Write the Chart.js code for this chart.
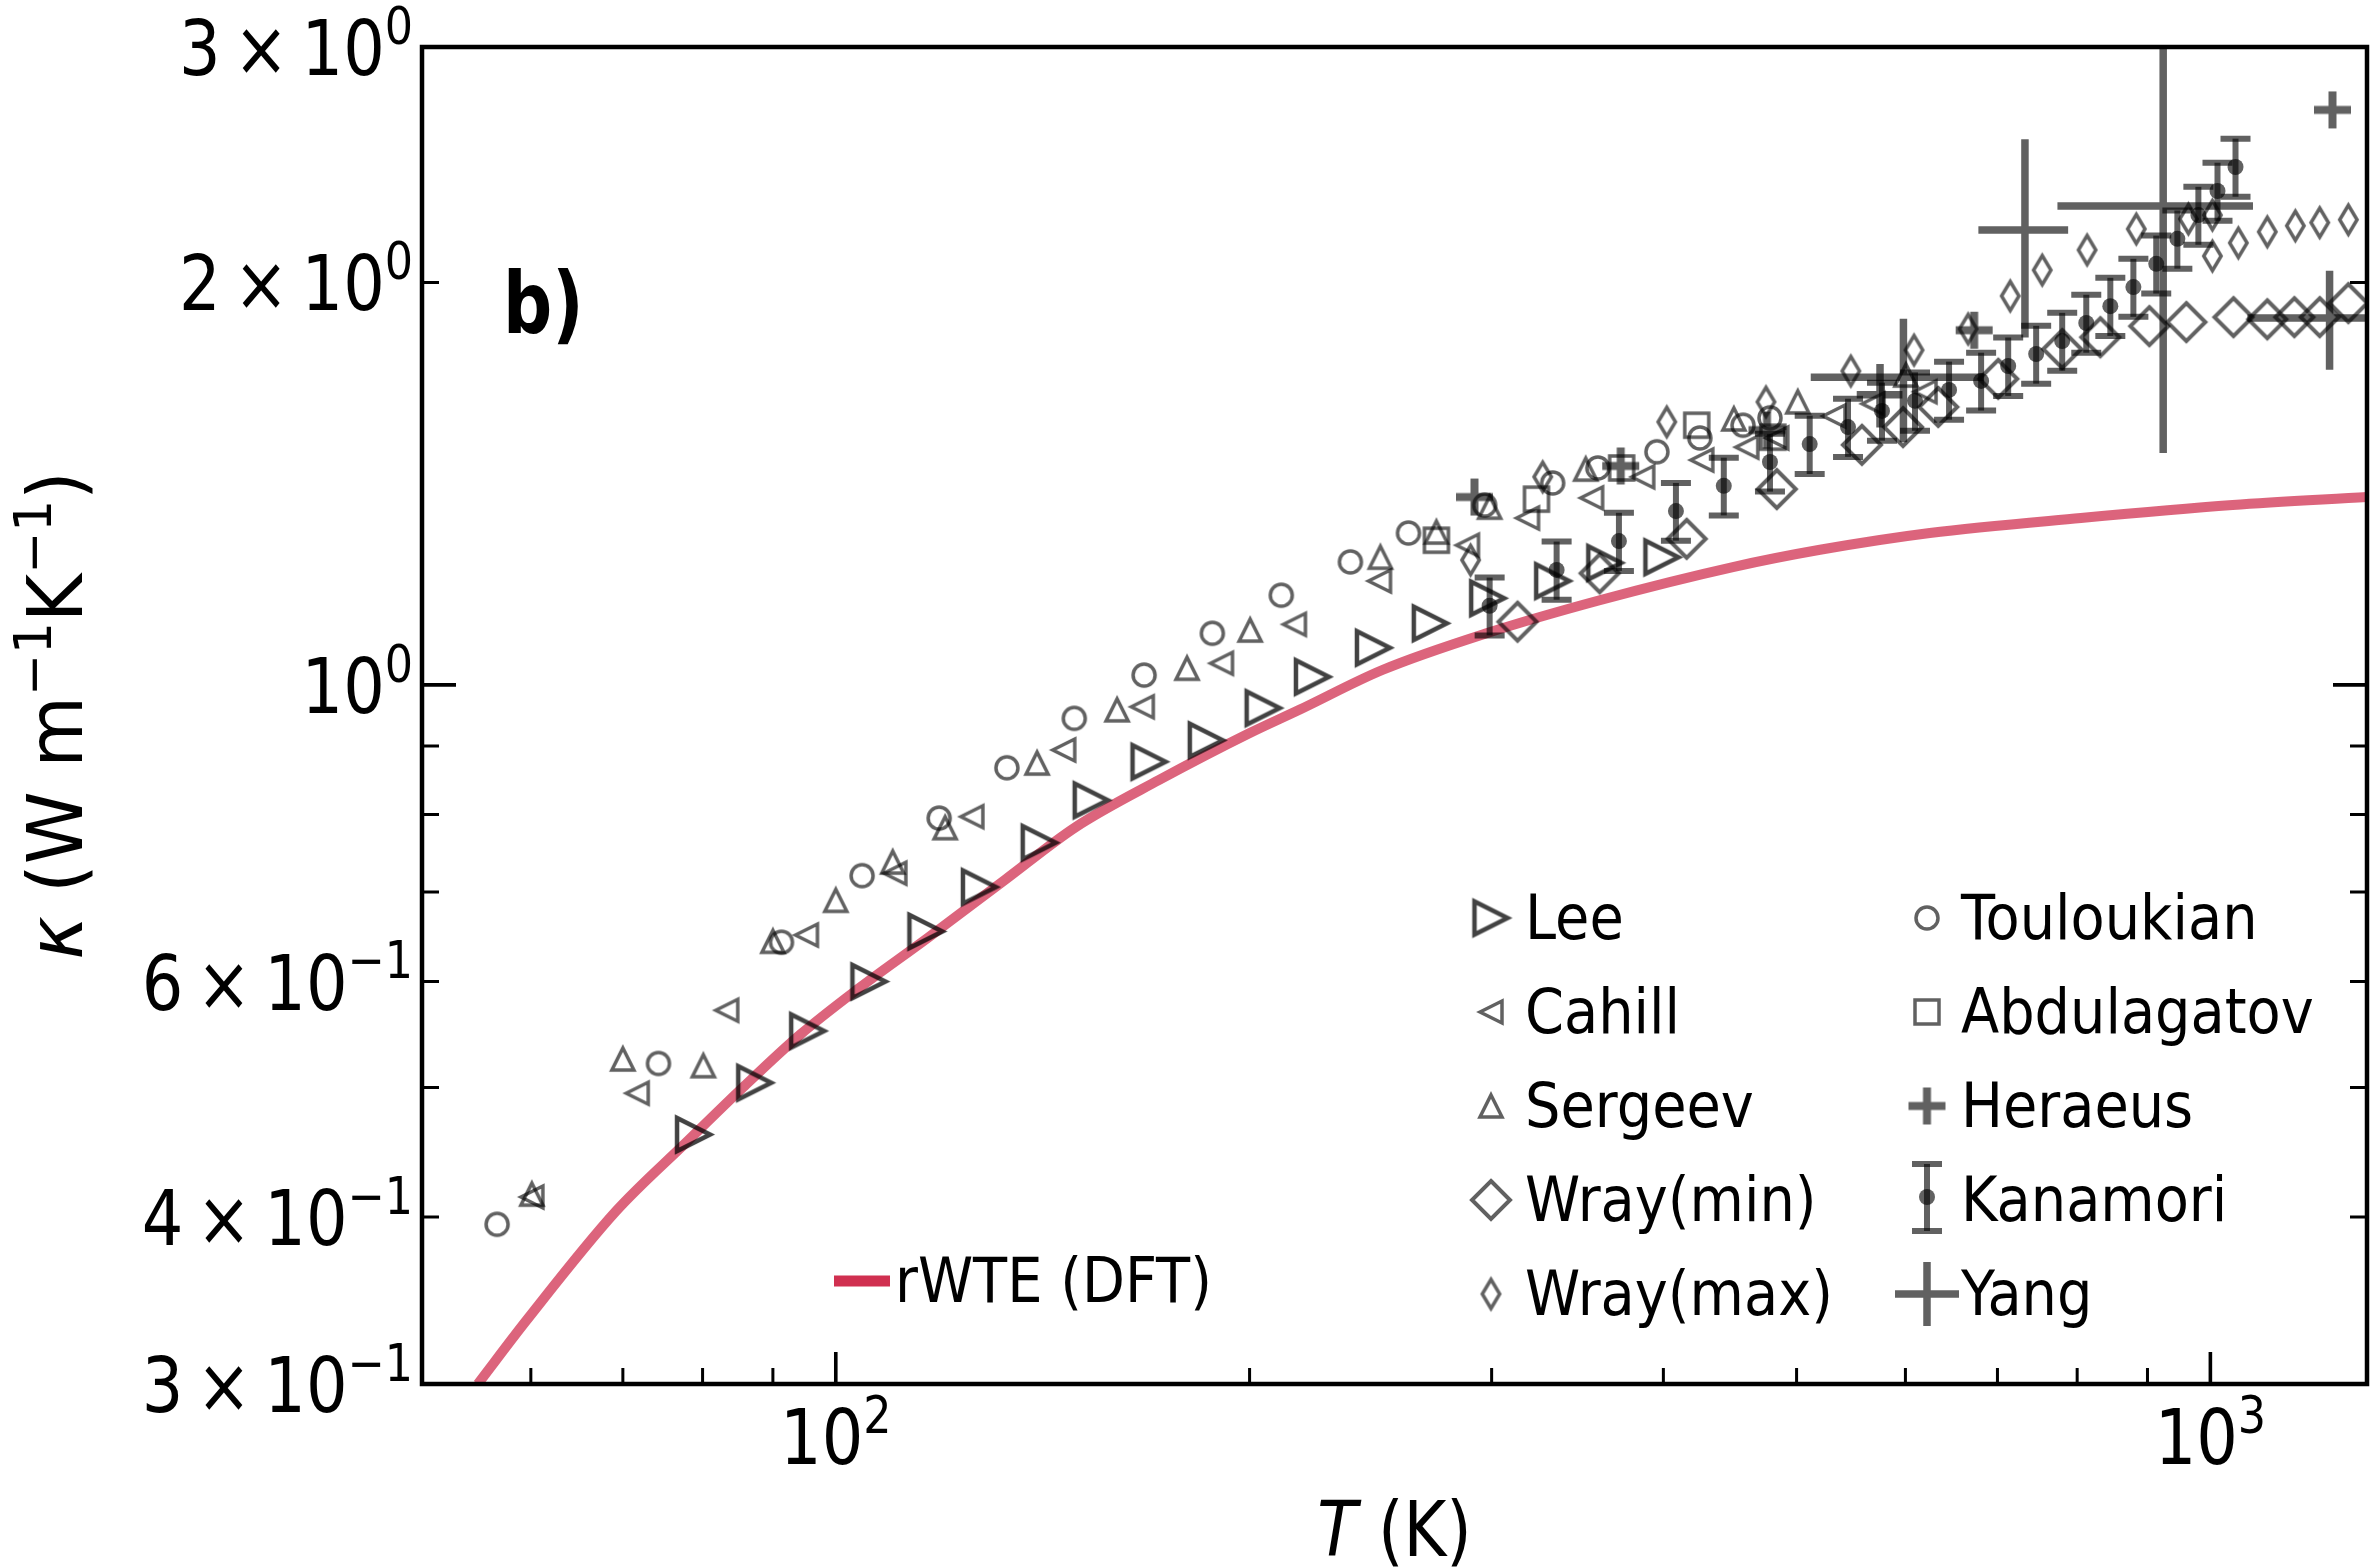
<!DOCTYPE html>
<html>
<head>
<meta charset="utf-8">
<script src="https://cdn.jsdelivr.net/npm/chart.js@4.4.1/dist/chart.umd.min.js"></script>
<style>
  html, body { margin: 0; padding: 0; background: #fff; }
  #wrap { width: 2376px; height: 1567px; }
</style>
</head>
<body>
<div id="wrap"><canvas id="kappa" width="2376" height="1567"></canvas></div>
<script>
'use strict'

// rWTE (DFT) curve
const rwteT = [54.9, 59.6, 69.2, 77.7, 85.6, 94.3, 103.7, 116.7, 132.8, 149.5, 171.9, 199.9, 217.4, 249.8, 297.4, 359.5, 449.4, 520, 625, 805, 1038, 1301]
const rwteK = [0.300, 0.335, 0.404, 0.454, 0.500, 0.548, 0.592, 0.647, 0.715, 0.783, 0.849, 0.920, 0.958, 1.026, 1.093, 1.157, 1.225, 1.262, 1.299, 1.333, 1.363, 1.382]

// experiments
const leeT = [78.8, 87.3, 95.4, 105.7, 116.3, 127.2, 140.6, 153.4, 169.0, 186.0, 204.6, 222.2, 246.1, 270.7, 298.0, 332.3, 362.6, 399]
const leeK = [0.461, 0.504, 0.551, 0.600, 0.654, 0.706, 0.762, 0.820, 0.876, 0.909, 0.961, 1.014, 1.066, 1.112, 1.161, 1.196, 1.234, 1.246]

const cahillT = [60.1, 71.7, 83.3, 95.2, 110.4, 125.6, 146.5, 167.1, 190.8, 215.6, 248.6, 288.1, 318.6, 354.7, 386.4, 426.6, 460, 483.7, 532.3, 568.3, 620]
const cahillK = [0.414, 0.495, 0.571, 0.650, 0.723, 0.797, 0.894, 0.963, 1.038, 1.110, 1.196, 1.272, 1.333, 1.380, 1.431, 1.473, 1.506, 1.530, 1.589, 1.623, 1.657]

const sergeevT = [60.1, 70.0, 80.1, 90.0, 100, 110, 120.1, 140.1, 160.2, 180.1, 200.2, 249, 273.5, 299, 351.2, 450.1, 501, 600.5]
const sergeevK = [0.416, 0.525, 0.519, 0.643, 0.690, 0.737, 0.782, 0.874, 0.958, 1.029, 1.099, 1.246, 1.301, 1.358, 1.450, 1.581, 1.628, 1.705]

const wrayMinT = [313.3, 359.5, 415.9, 483.7, 557.8, 597.6, 633.9, 700.9, 780.2, 831.7, 902.8, 960.5, 1039.4, 1100, 1151, 1201, 1260]
const wrayMinK = [1.115, 1.212, 1.286, 1.401, 1.512, 1.559, 1.614, 1.694, 1.783, 1.820, 1.855, 1.868, 1.884, 1.877, 1.884, 1.884, 1.930]

const wrayMaxT = [289.6, 326.8, 402.3, 475, 547.6, 608.7, 666.4, 715.1, 754.5, 813.4, 883.3, 963.9, 1003.4, 1003.4, 1048, 1100, 1153, 1201, 1260]
const wrayMaxK = [1.240, 1.431, 1.573, 1.628, 1.717, 1.780, 1.846, 1.954, 2.043, 2.115, 2.193, 2.231, 2.246, 2.093, 2.141, 2.182, 2.205, 2.217, 2.228]

const toulT = [56.7, 74.3, 91.3, 104.5, 118.9, 133.2, 149.1, 167.6, 187.9, 210.9, 236.8, 261, 296.5, 332.3, 358.4, 395.7, 425.2, 457.1, 478.2]
const toulK = [0.395, 0.521, 0.642, 0.720, 0.795, 0.867, 0.944, 1.017, 1.093, 1.167, 1.236, 1.299, 1.363, 1.416, 1.453, 1.494, 1.530, 1.564, 1.584]

const abdT = [273.5, 323.4, 373, 423, 480.5]
const abdK = [1.283, 1.377, 1.453, 1.564, 1.532]

const heraeusT = [291.5, 372.4, 475.8, 673.2, 1227]
const heraeusK = [1.382, 1.458, 1.551, 1.842, 2.692]

const kanT = [299, 334.5, 371.3, 408.5, 442.6, 478.2, 511.1, 545, 576.9, 609.7, 645.5, 681.1, 712.7, 746.9, 780.2, 812.3, 845.7, 879, 913.3, 946.2, 980.1, 1012, 1043]
const kanK = [1.146, 1.219, 1.281, 1.349, 1.409, 1.468, 1.514, 1.559, 1.603, 1.631, 1.662, 1.688, 1.732, 1.768, 1.808, 1.865, 1.920, 1.984, 2.065, 2.156, 2.246, 2.341, 2.440]
const kanErr = [0.057, 0.061, 0.064, 0.067, 0.070, 0.073, 0.076, 0.078, 0.080, 0.082, 0.083, 0.084, 0.087, 0.088, 0.090, 0.093, 0.096, 0.099, 0.103, 0.108, 0.112, 0.117, 0.122]

const yangT = [575, 598, 733, 924, 1221]
const yangK = [1.648, 1.699, 2.189, 2.281, 1.881]
const yangTErr = [22, 86, 55, 150, 157]
const yangKErr = [0.09, 0.18, 0.37, 0.79, 0.16]

// axes
const xMajor = [100, 1000]
const xMinor = [60, 70, 80, 90, 200, 300, 400, 500, 600, 700, 800, 900]
const yMajor = [1]
const yMinor = [0.4, 0.5, 0.6, 0.7, 0.8, 0.9, 2]
const xLabelVals = [100, 1000]
const xLabelExp = ['2', '3']
const yLabelVals = [0.3, 0.4, 0.6, 1, 2, 3]
const yLabelMant = ['3', '4', '6', '', '2', '3']
const yLabelExp = ['\u22121', '\u22121', '\u22121', '0', '0', '0']

const legendLeft = ['Lee', 'Cahill', 'Sergeev', 'Wray(min)', 'Wray(max)']
const legendRight = ['Touloukian', 'Abdulagatov', 'Heraeus', 'Kanamori', 'Yang']

const ink = 'rgba(0,0,0,0.62)'
const leeInk = 'rgba(0,0,0,0.74)'
const red = 'rgb(208,48,80)'
const FONT = '"DejaVu Sans"'

function markerCanvas(shape, size, lw, color) {
  const pad = Math.ceil(lw) + 3
  const c = document.createElement('canvas')
  c.width = Math.ceil(size + 2 * pad)
  c.height = c.width
  const g = c.getContext('2d')
  g.translate(c.width / 2, c.height / 2)
  g.strokeStyle = color
  g.lineWidth = lw
  g.lineJoin = 'miter'
  const h = size / 2
  g.beginPath()
  switch (shape) {
    case 'right': g.moveTo(h, 0); g.lineTo(-h, -h); g.lineTo(-h, h); g.closePath(); break
    case 'left': g.moveTo(-h, 0); g.lineTo(h, -h); g.lineTo(h, h); g.closePath(); break
    case 'up': g.moveTo(0, -h); g.lineTo(h, h); g.lineTo(-h, h); g.closePath(); break
    case 'circle': g.arc(0, 0, h, 0, Math.PI * 2); break
    case 'square': g.rect(-h, -h, size, size); break
    case 'diamond': g.moveTo(0, -h); g.lineTo(h, 0); g.lineTo(0, h); g.lineTo(-h, 0); g.closePath(); break
    case 'thin': g.moveTo(0, -h); g.lineTo(h * 0.6, 0); g.lineTo(0, h); g.lineTo(-h * 0.6, 0); g.closePath(); break
    case 'plus': g.moveTo(-h, 0); g.lineTo(h, 0); g.moveTo(0, -h); g.lineTo(0, h); break
  }
  g.stroke()
  return c
}

const mk = {
  lee: markerCanvas('right', 33, 4.5, leeInk),
  cahill: markerCanvas('left', 22, 3.5, ink),
  sergeev: markerCanvas('up', 22, 3.5, ink),
  wmin: markerCanvas('diamond', 38, 4, ink),
  wmax: markerCanvas('thin', 29, 3.5, ink),
  toul: markerCanvas('circle', 22, 3.5, ink),
  abd: markerCanvas('square', 24, 3.5, ink),
  her: markerCanvas('plus', 37, 8, ink)
}

function pts(xs, ys) {
  return xs.map((v, i) => ({x: v, y: ys[i]}))
}

// text with superscripts, squeezed a bit to match the narrow face of the figure
function richText(ctx, parts, x, y, o) {
  const base = o.size
  const sq = o.squeeze || 1
  const fontOf = k => (k === 'i' ? 'italic ' : '') + (o.bold ? 'bold ' : '') + (k === 's' ? base * 0.68 : base) + 'px ' + FONT
  let total = 0
  const widths = parts.map(([t, k]) => {
    ctx.font = fontOf(k)
    const w = ctx.measureText(t).width
    total += w
    return w
  })
  let cx = o.align === 'right' ? -total : o.align === 'center' ? -total / 2 : 0
  ctx.save()
  ctx.translate(x, y)
  if (o.rotate) ctx.rotate(o.rotate)
  ctx.scale(sq, 1)
  ctx.fillStyle = '#000'
  ctx.textAlign = 'left'
  ctx.textBaseline = 'alphabetic'
  parts.forEach(([t, k], i) => {
    ctx.font = fontOf(k)
    ctx.fillText(t, cx, k === 's' ? -base * 0.41 : 0)
    cx += widths[i]
  })
  ctx.restore()
}

function errorCross(ctx, px, py, y1, y2, x1, x2, cap) {
  ctx.beginPath()
  if (y1 !== null) {
    ctx.moveTo(px, y1); ctx.lineTo(px, y2)
  }
  if (x1 !== null) {
    ctx.moveTo(x1, py); ctx.lineTo(x2, py)
  }
  ctx.stroke()
  if (cap) {
    ctx.beginPath()
    ctx.moveTo(px - cap, y1); ctx.lineTo(px + cap, y1)
    ctx.moveTo(px - cap, y2); ctx.lineTo(px + cap, y2)
    ctx.stroke()
  }
}

const errorBars = {
  id: 'errorBars',
  beforeDatasetDraw(chart, args) {
    const ds = chart.data.datasets[args.index]
    if (!ds.errY) return
    const {ctx, chartArea, scales: {x, y}} = chart
    ctx.save()
    ctx.beginPath()
    ctx.rect(chartArea.left, chartArea.top, chartArea.width, chartArea.height)
    ctx.clip()
    ctx.strokeStyle = ink
    ctx.lineWidth = ds.errWidth
    ds.data.forEach((p, i) => {
      const px = x.getPixelForValue(p.x)
      const py = y.getPixelForValue(p.y)
      const y1 = y.getPixelForValue(p.y - ds.errY[i])
      const y2 = y.getPixelForValue(p.y + ds.errY[i])
      let x1 = null, x2 = null
      if (ds.errX) {
        x1 = x.getPixelForValue(p.x - ds.errX[i])
        x2 = x.getPixelForValue(p.x + ds.errX[i])
      }
      errorCross(ctx, px, py, y1, y2, x1, x2, ds.errCap || 0)
    })
    ctx.restore()
  }
}

const frame = {
  id: 'frame',
  afterDraw(chart) {
    const {ctx, chartArea: a, scales: {x, y}} = chart
    ctx.save()
    ctx.strokeStyle = '#000'
    ctx.lineCap = 'butt'

    // ticks, inward, bottom + left + right
    const tick = (vals, len, lw) => {
      ctx.lineWidth = lw
      ctx.beginPath()
      vals.forEach(v => {
        const px = x.getPixelForValue(v)
        ctx.moveTo(px, a.bottom); ctx.lineTo(px, a.bottom - len)
      })
      ctx.stroke()
    }
    const ytick = (vals, len, lw) => {
      ctx.lineWidth = lw
      ctx.beginPath()
      vals.forEach(v => {
        const py = y.getPixelForValue(v)
        ctx.moveTo(a.left, py); ctx.lineTo(a.left + len, py)
        ctx.moveTo(a.right, py); ctx.lineTo(a.right - len, py)
      })
      ctx.stroke()
    }
    tick(xMajor, 32, 3.6)
    tick(xMinor, 16, 3)
    ytick(yMajor, 34, 3.6)
    ytick(yMinor, 17, 3)

    ctx.lineWidth = 4.5
    ctx.strokeRect(a.left, a.top, a.right - a.left, a.bottom - a.top)
    ctx.restore()

    // tick labels
    const fs = 76
    xLabelVals.forEach((v, i) => {
      richText(ctx, [['10', ''], [xLabelExp[i], 's']], x.getPixelForValue(v), 1464, {size: fs, squeeze: 0.86, align: 'center'})
    })
    yLabelVals.forEach((v, i) => {
      const parts = yLabelMant[i] ? [[yLabelMant[i] + '\u2009\u00d7\u200910', '']] : [['10', '']]
      parts.push([yLabelExp[i], 's'])
      richText(ctx, parts, 413, y.getPixelForValue(v) + 28, {size: fs, squeeze: 0.86, align: 'right'})
    })

    // axis titles
    richText(ctx, [['T', 'i'], [' (K)', '']], (a.left + a.right) / 2, 1556, {size: fs, squeeze: 0.86, align: 'center'})
    richText(ctx, [['\u03ba', 'i'], [' (W m', ''], ['\u22121', 's'], ['K', ''], ['\u22121', 's'], [')', '']],
      82, (a.top + a.bottom) / 2, {size: fs, squeeze: 0.97, align: 'center', rotate: -Math.PI / 2})

    // panel label
    richText(ctx, [['b)', '']], 503, 333, {size: 86, bold: true, squeeze: 0.8})

    // legends
    const rows = [918, 1012, 1106, 1200, 1294]
    const leftMarks = [mk.lee, mk.cahill, mk.sergeev, mk.wmin, mk.wmax]
    const rightMarks = [mk.toul, mk.abd, mk.her, null, null]
    rows.forEach((ry, i) => {
      ctx.drawImage(leftMarks[i], 1491 - leftMarks[i].width / 2, ry - leftMarks[i].height / 2)
      richText(ctx, [[legendLeft[i], '']], 1525, ry + 21, {size: 62, squeeze: 0.9})
      if (rightMarks[i]) {
        ctx.drawImage(rightMarks[i], 1927 - rightMarks[i].width / 2, ry - rightMarks[i].height / 2)
      }
      richText(ctx, [[legendRight[i], '']], 1961, ry + 21, {size: 62, squeeze: 0.9})
    })
    ctx.save()
    ctx.strokeStyle = ink
    ctx.fillStyle = ink
    ctx.lineWidth = 6
    errorCross(ctx, 1927, rows[3] - 3, rows[3] - 36, rows[3] + 31, null, null, 15)
    ctx.beginPath()
    ctx.arc(1927, rows[3] - 3, 8, 0, Math.PI * 2)
    ctx.fill()
    ctx.lineWidth = 7.5
    errorCross(ctx, 1927, rows[4], rows[4] - 32, rows[4] + 32, 1895, 1959, 0)
    // rWTE legend
    ctx.strokeStyle = red
    ctx.lineWidth = 11
    ctx.beginPath()
    ctx.moveTo(834, 1281); ctx.lineTo(890, 1281)
    ctx.stroke()
    ctx.restore()
    richText(ctx, [['rWTE (DFT)', '']], 895, 1302, {size: 62, squeeze: 0.9})
  }
}

const canvas = document.getElementById('kappa')

new Chart(canvas, {
  type: 'scatter',
  data: {
    datasets: [
      {label: 'Kanamori', data: pts(kanT, kanK), pointStyle: 'circle', pointRadius: 8, backgroundColor: ink, borderWidth: 0,
        errY: kanErr, errCap: 15, errWidth: 6},
      {label: 'Yang', data: pts(yangT, yangK), pointRadius: 0, errY: yangKErr, errX: yangTErr, errWidth: 7.5},
      {label: 'Heraeus', data: pts(heraeusT, heraeusK), pointStyle: mk.her, pointRadius: 18},
      {label: 'Abdulagatov', data: pts(abdT, abdK), pointStyle: mk.abd, pointRadius: 12},
      {label: 'Touloukian', data: pts(toulT, toulK), pointStyle: mk.toul, pointRadius: 11},
      {label: 'Wray(max)', data: pts(wrayMaxT, wrayMaxK), pointStyle: mk.wmax, pointRadius: 15},
      {label: 'Wray(min)', data: pts(wrayMinT, wrayMinK), pointStyle: mk.wmin, pointRadius: 19},
      {label: 'Sergeev', data: pts(sergeevT, sergeevK), pointStyle: mk.sergeev, pointRadius: 11},
      {label: 'Cahill', data: pts(cahillT, cahillK), pointStyle: mk.cahill, pointRadius: 11},
      {label: 'Lee', data: pts(leeT, leeK), pointStyle: mk.lee, pointRadius: 17},
      {label: 'rWTE (DFT)', data: pts(rwteT, rwteK), showLine: true, pointRadius: 0,
        borderColor: 'rgba(208,48,80,0.75)', borderWidth: 10, borderJoinStyle: 'round', cubicInterpolationMode: 'monotone'}
    ]
  },
  options: {
    responsive: false,
    devicePixelRatio: 1,
    animation: false,
    events: [],
    layout: {autoPadding: false, padding: {left: 422, top: 47, right: 9, bottom: 183}},
    plugins: {
      legend: {display: false},
      tooltip: {enabled: false}
    },
    scales: {
      x: {type: 'logarithmic', min: 50, max: 1300, display: false},
      y: {type: 'logarithmic', min: 0.3, max: 3, display: false}
    }
  },
  plugins: [errorBars, frame]
})
</script>
</body>
</html>
